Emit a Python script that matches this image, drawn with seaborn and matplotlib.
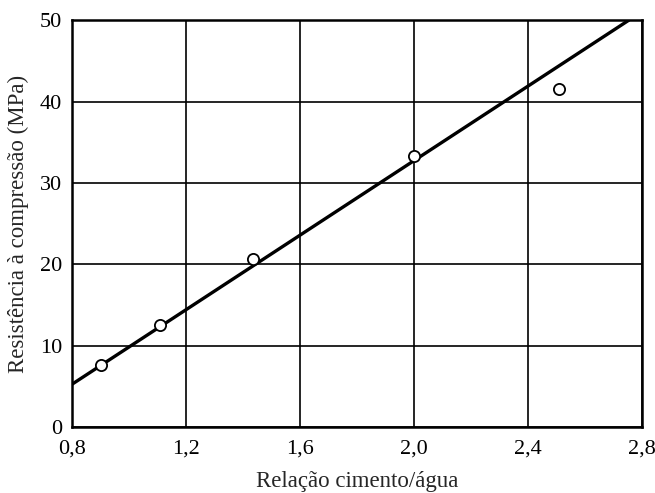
import matplotlib
matplotlib.use("Agg")
import matplotlib.pyplot as plt
import seaborn as sns
import pandas as pd

# measured points (cement/water ratio vs compressive strength)
ratio = [0.90, 1.11, 1.435, 2.00, 2.51]
strength = [7.6, 12.5, 20.7, 33.3, 41.5]

# fitted straight line, read at its two ends
fit_ratio = [0.80, 2.754]
fit_strength = [5.25, 50.0]

x_ticks = [0.8, 1.2, 1.6, 2.0, 2.4, 2.8]
x_tick_labels = ["0,8", "1,2", "1,6", "2,0", "2,4", "2,8"]
y_ticks = [0, 10, 20, 30, 40, 50]

sns.set_style("white")
plt.rcParams["font.family"] = ["Liberation Serif", "DejaVu Serif"]

points = pd.DataFrame({"ratio": ratio, "strength": strength})
fit = pd.DataFrame({"ratio": fit_ratio, "strength": fit_strength})

fig = plt.figure(figsize=(6.55, 4.93), dpi=100)
ax = fig.add_axes([0.110, 0.134, 0.870, 0.825])

sns.lineplot(data=fit, x="ratio", y="strength", ax=ax, color="black",
             linewidth=2.4, zorder=3)
sns.scatterplot(data=points, x="ratio", y="strength", ax=ax, s=65,
                facecolor="white", edgecolor="black", linewidth=1.3, zorder=4)

ax.set_xlim(0.8, 2.8)
ax.set_ylim(0, 50)
ax.set_xticks(x_ticks)
ax.set_xticklabels(x_tick_labels)
ax.set_yticks(y_ticks)
ax.grid(True, color="black", linewidth=1.2)
ax.set_axisbelow(True)
for sp in ax.spines.values():
    sp.set_visible(True)
    sp.set_color("black")
    sp.set_linewidth(1.8)
ax.tick_params(length=0, labelsize=16, colors="black")
ax.tick_params(axis="x", pad=9)
ax.tick_params(axis="y", pad=7)

ax.set_xlabel("Relação cimento/água", fontsize=16.5, labelpad=9)
ax.set_ylabel("Resistência à compressão (MPa)", fontsize=16.5, labelpad=8)

fig.savefig("out.png", dpi=100, facecolor="white")
